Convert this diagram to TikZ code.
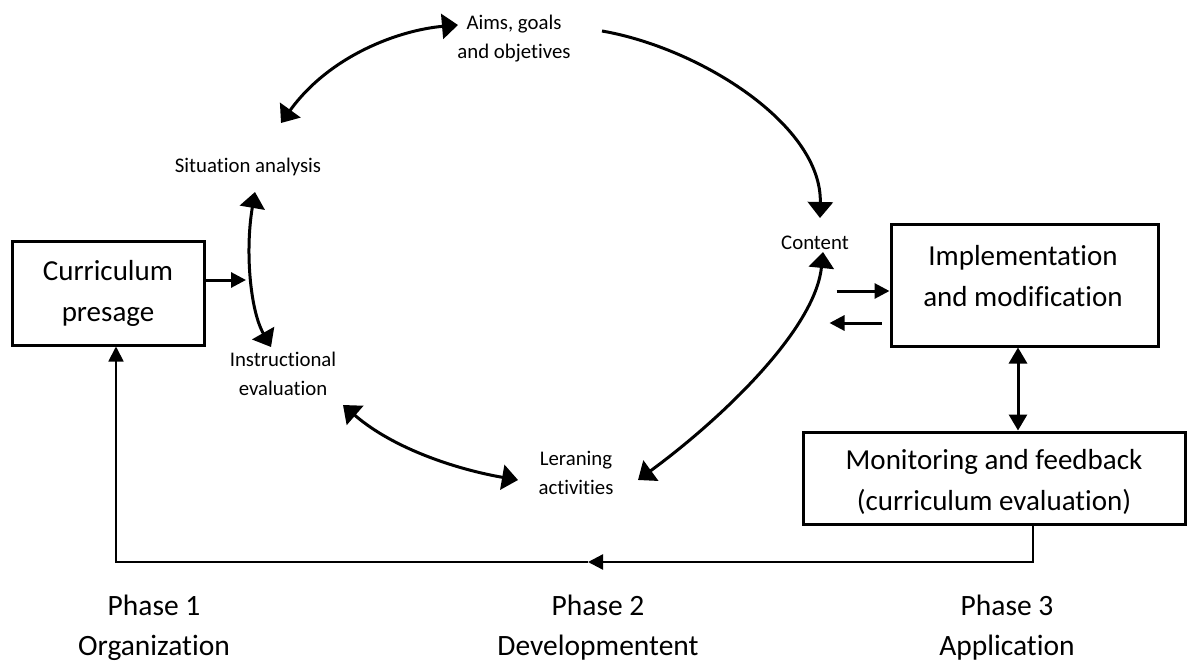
\documentclass[tikz,border=0pt]{standalone}
\usepackage{fontspec}
\setmainfont{Carlito}[Ligatures=NoCommon]
\usetikzlibrary{arrows.meta,calc}
\tikzset{
  bigtri/.tip={Triangle[length=16pt,width=25pt]},
  smalltri/.tip={Triangle[length=15pt,width=15pt]},
  midtri/.tip={Triangle[length=16pt,width=18pt]},
}
\begin{document}
\begin{tikzpicture}[x=1pt,y=-1pt,
  small/.style={font=\fontsize{20.8}{29}\selectfont, align=center, inner sep=0pt},
  big/.style={font=\fontsize{29}{41}\selectfont, align=center, inner sep=0pt},
  phase/.style={font=\fontsize{29.5}{40}\selectfont, align=center, inner sep=0pt},
  box/.style={draw, line width=3pt, inner sep=0pt},
  curve/.style={line width=3pt},
  straight/.style={line width=3pt},
  fbthick/.style={line width=2.4pt},
  fbthin/.style={line width=1.8pt},
]
\useasboundingbox (0,0) rectangle (1192,664);

% boxes
\node[box, big, minimum width=192pt, minimum height=104pt] (pres) at (108,293) {Curriculum\\presage};
\node[box, minimum width=267pt, minimum height=122pt] (impl) at (1024.5,285) {};
\node[big] (implt) at (1023,276) {Implementation\\and modification};
\node[box, minimum width=382pt, minimum height=92pt] (mon) at (994,478) {};
\node[big] (mont) at (994,482) {Monitoring and feedback\\(curriculum evaluation)};

% cycle labels
\node[small] (sit) at (248,167) {Situation analysis};
\node[small] (inst) at (283,374) {Instructional\\evaluation};
\node[small] (aims) at (514,38.5) {Aims, goals\\and objetives};
\node[small] (cont) at (815,243) {Content};
\node[small] (lera) at (576,472.5) {Leraning\\activities};

% phases
\node[phase] (p1) at (154,628) {Phase 1\\Organization};
\node[phase] (p2) at (598,628) {Phase 2\\Developmentent};
\node[phase] (p3) at (1007,628) {Phase 3\\Application};

% cycle connectors
\draw[curve, bigtri-bigtri] ($(sit)+(33,-44)$) .. controls ($(sit)+(82,-112)$) and ($(aims)+(-114,-8.5)$) .. ($(aims)+(-56,-13.5)$);
\draw[curve, -bigtri] ($(aims)+(88,-7.5)$) .. controls ($(aims)+(186,9.5)$) and ($(cont)+(7,-118)$) .. ($(cont)+(5,-25)$);
\draw[curve, bigtri-bigtri] ($(cont)+(8,9)$) .. controls ($(cont)+(0,87)$) and ($(lera)+(144,-52.5)$) .. ($(lera)+(62,7.5)$);
\draw[curve, bigtri-bigtri] ($(sit)+(7,25)$) .. controls ($(sit)+(-3,83)$) and ($(inst)+(-33,-64)$) .. ($(inst)+(-12,-27)$);
\draw[curve, bigtri-bigtri] ($(inst)+(60,31)$) .. controls ($(inst)+(112,76)$) and ($(lera)+(-116,-2.5)$) .. ($(lera)+(-58,7.5)$);

% straight connectors
\coordinate (pa) at (246,280);
\draw[straight, -smalltri] ($(pres.east)+(0,-13)$) -- (pa);
\coordinate (ca) at ($(impl.west)+(-53,6)$);
\draw[straight, -smalltri] (ca) -- ($(impl.west)+(0,6)$);
\coordinate (cb) at ($(impl.west)+(-60,38)$);
\draw[straight, -smalltri] ($(impl.west)+(-8,38)$) -- (cb);
\coordinate (ia) at ($(impl.south)+(-6.5,0)$);
\draw[straight, midtri-midtri] (ia) -- (ia |- mon.north);

% feedback loop
\coordinate (mb) at ($(mon.south)+(39,0)$);
\coordinate (fb) at (588,562);
\draw[fbthick, -smalltri] (mb) |- (fb);
\draw[fbthin, -smalltri] (fb) -| ($(pres.south)+(8,0)$);
\end{tikzpicture}
\end{document}
